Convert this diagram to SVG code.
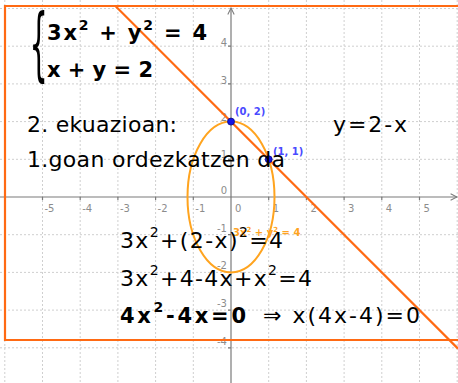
<svg xmlns="http://www.w3.org/2000/svg" width="458" height="383" viewBox="0 0 458 383">
<defs>
<style>
.grid line{stroke:#cfcfcf;stroke-width:1;stroke-dasharray:2,2}
.axis{stroke:#7a7a7a;stroke-width:1.2;fill:none}
.tick{font-family:"DejaVu Sans",sans-serif;font-size:10px;fill:#8c8c8c}
.tl{text-anchor:end}
.orange{stroke:#ff6a13;stroke-width:2.2;fill:none}
.ell{stroke:#ffa41f;stroke-width:2;fill:none}
.pt{fill:#1414e6;stroke:#0a0a80;stroke-width:0.8}
.plab{font-family:"DejaVu Sans",sans-serif;font-size:10px;font-weight:bold;fill:#4a4aff}
.elab{font-family:"DejaVu Sans",sans-serif;font-size:10px;font-weight:bold;fill:#ffa41f}
.t{font-family:"DejaVu Sans",sans-serif;font-size:22px;fill:#000}
.b{font-family:"DejaVu Sans",sans-serif;font-size:21px;font-weight:bold;fill:#000}
</style>
<marker id="arr" viewBox="0 0 10 10" refX="9" refY="5" markerWidth="8" markerHeight="8" orient="auto" markerUnits="userSpaceOnUse">
<path d="M1,1 L9,5 L1,9" fill="none" stroke="#7a7a7a" stroke-width="1.3"/>
</marker>
</defs>
<rect width="458" height="383" fill="#fff"/>
<g id="grid" class="grid">
<line x1="4.8" y1="0" x2="4.8" y2="383"/>
<line x1="42.5" y1="0" x2="42.5" y2="383"/>
<line x1="80.2" y1="0" x2="80.2" y2="383"/>
<line x1="117.9" y1="0" x2="117.9" y2="383"/>
<line x1="155.6" y1="0" x2="155.6" y2="383"/>
<line x1="193.3" y1="0" x2="193.3" y2="383"/>
<line x1="268.7" y1="0" x2="268.7" y2="383"/>
<line x1="306.4" y1="0" x2="306.4" y2="383"/>
<line x1="344.1" y1="0" x2="344.1" y2="383"/>
<line x1="381.8" y1="0" x2="381.8" y2="383"/>
<line x1="419.5" y1="0" x2="419.5" y2="383"/>
<line x1="457.2" y1="0" x2="457.2" y2="383"/>
<line x1="0" y1="8.5" x2="458" y2="8.5"/>
<line x1="0" y1="46.2" x2="458" y2="46.2"/>
<line x1="0" y1="83.9" x2="458" y2="83.9"/>
<line x1="0" y1="121.6" x2="458" y2="121.6"/>
<line x1="0" y1="159.3" x2="458" y2="159.3"/>
<line x1="0" y1="234.7" x2="458" y2="234.7"/>
<line x1="0" y1="272.4" x2="458" y2="272.4"/>
<line x1="0" y1="310.1" x2="458" y2="310.1"/>
<line x1="0" y1="347.8" x2="458" y2="347.8"/>
</g>
<g id="axes">
<line class="axis" x1="0" y1="197" x2="457" y2="197" marker-end="url(#arr)"/>
<line class="axis" x1="231" y1="383" x2="231" y2="8" marker-end="url(#arr)"/>
<path class="axis" d="M42.5,197v3M80.2,197v3M117.9,197v3M155.6,197v3M193.3,197v3M268.7,197v3M306.4,197v3M344.1,197v3M381.8,197v3M419.5,197v3M228,46.2h3M228,83.9h3M228,121.6h3M228,159.3h3M228,234.7h3M228,272.4h3M228,310.1h3M228,347.8h3"/>
<text class="tick" x="44.5" y="212">-5</text>
<text class="tick" x="82.2" y="212">-4</text>
<text class="tick" x="119.9" y="212">-3</text>
<text class="tick" x="157.6" y="212">-2</text>
<text class="tick" x="195.3" y="212">-1</text>
<text class="tick" x="235" y="212">0</text>
<text class="tick" x="272.7" y="212">1</text>
<text class="tick" x="310.4" y="212">2</text>
<text class="tick" x="348.1" y="212">3</text>
<text class="tick" x="385.8" y="212">4</text>
<text class="tick" x="423.5" y="212">5</text>
<text class="tick tl" x="227" y="46">4</text>
<text class="tick tl" x="227" y="83.5">3</text>
<text class="tick tl" x="227" y="120.5">2</text>
<text class="tick tl" x="227" y="158">1</text>
<text class="tick tl" x="227" y="194">0</text>
<text class="tick tl" x="227" y="231.5">-1</text>
<text class="tick tl" x="227" y="269">-2</text>
<text class="tick tl" x="227" y="307">-3</text>
<text class="tick tl" x="227" y="345">-4</text>
</g>
<g id="connectors">
<ellipse id="ellipse" class="ell" cx="231" cy="197" rx="43.5" ry="75.4"/>
<line id="line" class="orange" x1="115.4" y1="6" x2="458" y2="348.6"/>
<polyline id="frame" class="orange" stroke-width="2.5" points="460,6 5,6 5,340 460,340"/>
</g>
<g id="ellipse-label"><text class="elab" x="233" y="236">3x<tspan font-size="7" dy="-4">2</tspan><tspan dy="4"> + y</tspan><tspan font-size="7" dy="-4">2</tspan><tspan dy="4"> = 4</tspan></text></g>
<g id="point-a">
<circle class="pt" cx="231" cy="121.6" r="3.5"/>
<text class="plab" x="235" y="115">(0, 2)</text>
</g>
<g id="point-b">
<circle class="pt" cx="268.7" cy="159.3" r="3.5"/>
<text class="plab" x="273" y="155">(1, 1)</text>
</g>
<g id="system">
<text transform="matrix(0.36,0,0,1,0,0)" x="82" y="71.4" font-family="DejaVu Sans, sans-serif" font-size="80" fill="#000">{</text>
<text class="b" x="47" y="40" textLength="160" lengthAdjust="spacing">3x<tspan font-size="14" dy="-10">2</tspan><tspan dy="10"> + y</tspan><tspan font-size="14" dy="-10">2</tspan><tspan dy="10">  = 4</tspan></text>
<text class="b" x="47" y="77" textLength="106" lengthAdjust="spacing">x + y = 2</text>
</g>
<g id="texts">
<text class="t" x="27" y="132" textLength="150" lengthAdjust="spacing">2. ekuazioan:</text>
<text class="t" x="27" y="167" textLength="258" lengthAdjust="spacing">1.goan ordezkatzen da</text>
<text class="t" x="333" y="132" textLength="74" lengthAdjust="spacing">y=2-x</text>
<text class="t" x="120" y="248" textLength="163" lengthAdjust="spacing">3x<tspan font-size="14" dy="-11">2</tspan><tspan dy="11">+(2-x)</tspan><tspan font-size="14" dy="-11">2</tspan><tspan dy="11">=4</tspan></text>
<text class="t" x="120" y="285.5" textLength="192" lengthAdjust="spacing">3x<tspan font-size="14" dy="-11">2</tspan><tspan dy="11">+4-4x+x</tspan><tspan font-size="14" dy="-11">2</tspan><tspan dy="11">=4</tspan></text>
<text class="b" font-size="23" x="120" y="322.5" textLength="126" lengthAdjust="spacing">4x<tspan font-size="14" dy="-11">2</tspan><tspan dy="11">-4x=0</tspan></text>
<text class="t" x="263" y="322.5" textLength="157" lengthAdjust="spacing">⇒ x(4x-4)=0</text>
</g>
</svg>
